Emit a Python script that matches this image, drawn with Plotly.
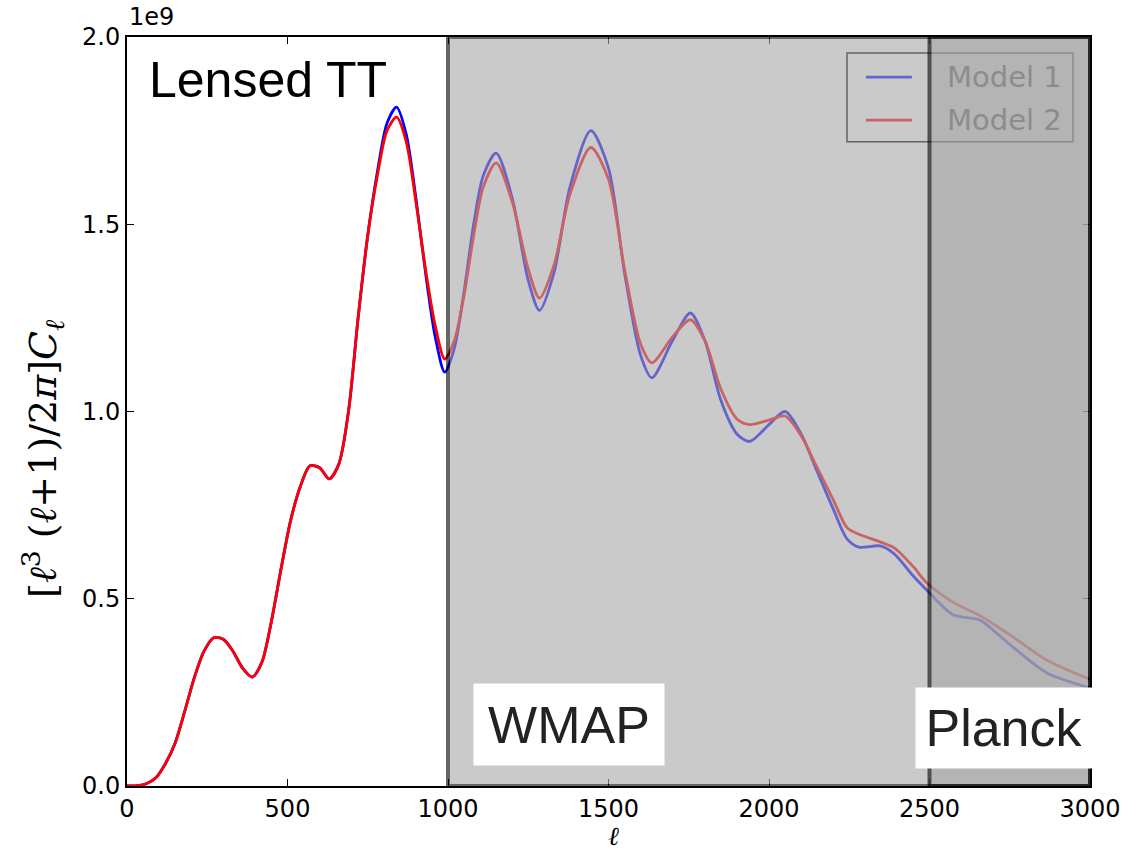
import plotly.graph_objects as go
import numpy as np

# ---- data (values in units of 1e9) ----
ell = [0, 30, 60, 90, 120, 150, 180, 210, 240, 270, 300, 330, 360, 390, 420, 450, 480, 510, 540,
       570, 600, 630, 660, 690, 720, 750, 780, 810, 840, 870, 900, 930, 960, 990, 1020, 1050,
       1080, 1110, 1150, 1200, 1250, 1285, 1330, 1380, 1445, 1500, 1550, 1600, 1635, 1700, 1755,
       1800, 1850, 1900, 1940, 2000, 2050, 2100, 2150, 2200, 2243, 2280, 2346, 2390, 2450, 2492,
       2573, 2657, 2700, 2760, 2866, 3000]

model1 = [0.0, 0.001, 0.006, 0.022, 0.06, 0.115, 0.20, 0.29, 0.36, 0.396, 0.392, 0.36, 0.315,
          0.291, 0.33, 0.44, 0.58, 0.71, 0.80, 0.855, 0.85, 0.82, 0.86, 1.0, 1.25, 1.47, 1.64,
          1.77, 1.813, 1.74, 1.57, 1.37, 1.20, 1.105, 1.17, 1.32, 1.50, 1.63, 1.69, 1.57, 1.35,
          1.27, 1.37, 1.60, 1.75, 1.65, 1.37, 1.15, 1.09, 1.19, 1.263, 1.19, 1.03, 0.94, 0.92,
          0.965, 1.0, 0.94, 0.84, 0.74, 0.66, 0.638, 0.641, 0.62, 0.56, 0.523, 0.457, 0.443,
          0.415, 0.371, 0.302, 0.262]

model2 = [0.0, 0.001, 0.006, 0.022, 0.06, 0.115, 0.20, 0.29, 0.36, 0.396, 0.392, 0.36, 0.315,
          0.291, 0.33, 0.44, 0.58, 0.71, 0.80, 0.855, 0.85, 0.82, 0.86, 1.0, 1.25, 1.47, 1.63,
          1.75, 1.786, 1.72, 1.56, 1.38, 1.23, 1.14, 1.19, 1.31, 1.47, 1.60, 1.664, 1.56, 1.38,
          1.303, 1.39, 1.58, 1.705, 1.62, 1.38, 1.18, 1.13, 1.20, 1.245, 1.19, 1.06, 0.98, 0.965,
          0.977, 0.988, 0.935, 0.85, 0.765, 0.69, 0.672, 0.652, 0.636, 0.585, 0.542, 0.491,
          0.455, 0.432, 0.398, 0.336, 0.285]

series_names = ["Model 1", "Model 2"]
x_ticks = [0, 500, 1000, 1500, 2000, 2500, 3000]
x_ticklabels = ["0", "500", "1000", "1500", "2000", "2500", "3000"]
y_ticks = [0.0, 0.5, 1.0, 1.5, 2.0]
y_ticklabels = ["0.0", "0.5", "1.0", "1.5", "2.0"]
scale = 1e9

# survey coverage regions (ell ranges)
wmap_range = [1000, 3000]
planck_range = [2500, 3000]

BLUE = "#0000ff"
RED = "#ff0000"

fig = go.Figure()
fig.add_trace(go.Scatter(x=ell, y=np.array(model1) * scale, mode="lines", name=series_names[0],
                         line=dict(color=BLUE, width=2.8, shape="spline", smoothing=0.8),
                         showlegend=False, hoverinfo="skip"))
fig.add_trace(go.Scatter(x=ell, y=np.array(model2) * scale, mode="lines", name=series_names[1],
                         line=dict(color=RED, width=2.8, shape="spline", smoothing=0.8),
                         showlegend=False, hoverinfo="skip"))

shapes = []
# legend drawn beneath the shaded overlays (as in the reference)
leg_x0, leg_x1 = 2243, 2947
leg_y0, leg_y1 = 1.72e9, 1.957e9
shapes.append(dict(type="rect", xref="x", yref="y", x0=leg_x0, x1=leg_x1, y0=leg_y0, y1=leg_y1,
                   line=dict(color="black", width=1.5), fillcolor="rgba(0,0,0,0)", layer="below"))
leg_rows = [1.893e9, 1.778e9]
for col, yy in zip([BLUE, RED], leg_rows):
    shapes.append(dict(type="line", xref="x", yref="y", x0=2302, x1=2445, y0=yy, y1=yy,
                       line=dict(color=col, width=2.8), layer="below"))

# shaded survey rectangles
for rng in (wmap_range, planck_range):
    shapes.append(dict(type="rect", xref="x", yref="y", x0=rng[0], x1=rng[1], y0=0, y1=2.0 * scale,
                       fillcolor="rgb(167,167,167)", opacity=0.6,
                       line=dict(color="black", width=4), layer="above"))

annotations = []
for name, yy in zip(series_names, leg_rows):
    annotations.append(dict(text=name, xref="x", yref="y", x=2548, y=yy, xanchor="left",
                            yanchor="middle", showarrow=False,
                            font=dict(family="DejaVu Sans", size=29, color="rgb(140,140,140)")))

annotations += [
    dict(text="Lensed TT", xref="paper", yref="paper", x=0.0208, y=0.943, xanchor="left",
         yanchor="middle", showarrow=False,
         font=dict(family="Liberation Sans", size=50, color="black")),
    dict(text="WMAP", xref="paper", yref="paper", x=0.459, y=0.0821, xanchor="center",
         yanchor="middle", showarrow=False, bgcolor="white", width=190, height=81, borderpad=0,
         font=dict(family="Liberation Sans", size=52, color="#222222")),
    dict(text="Planck", xref="paper", yref="paper", x=0.9107, y=0.078, xanchor="center",
         yanchor="middle", showarrow=False, bgcolor="white", width=176, height=80, borderpad=0,
         font=dict(family="Liberation Sans", size=52, color="#222222")),
    dict(text="1e9", xref="paper", yref="paper", x=0.0, y=1.0, xanchor="left", yanchor="bottom",
         yshift=4, showarrow=False,
         font=dict(family="DejaVu Sans", size=24, color="black")),
    dict(text="<i>ℓ</i>", xref="paper", yref="paper", x=0.505, y=-0.0454, xanchor="center",
         yanchor="top", showarrow=False, borderpad=0,
         font=dict(family="DejaVu Serif", size=26, color="black")),
    dict(text="[<i>ℓ</i><sup>3</sup> (<i>ℓ</i>+1)/2<i>π</i>]<i>C</i><sub><i>ℓ</i></sub>",
         xref="paper", yref="paper", x=-0.088, y=0.437, xanchor="center", yanchor="middle",
         textangle=-90, showarrow=False,
         font=dict(family="DejaVu Serif", size=38, color="black")),
]

axis_common = dict(showgrid=False, zeroline=False, showline=True, linecolor="black", linewidth=2,
                   ticks="inside", ticklen=7, tickwidth=1, tickcolor="black", mirror="allticks",
                   automargin=False,
                   tickfont=dict(family="DejaVu Sans", size=24, color="black"))

fig.update_layout(
    template="none",
    width=1146, height=855,
    margin=dict(l=127, r=56, t=37, b=69, pad=0),
    paper_bgcolor="white", plot_bgcolor="white",
    showlegend=False,
    xaxis=dict(range=[0, 3000], tickvals=x_ticks, ticktext=x_ticklabels, **axis_common),
    yaxis=dict(range=[0, 2.0 * scale], tickvals=[v * scale for v in y_ticks],
               ticktext=y_ticklabels, **axis_common),
    shapes=shapes,
    annotations=annotations,
)

fig.write_html("out.html")
